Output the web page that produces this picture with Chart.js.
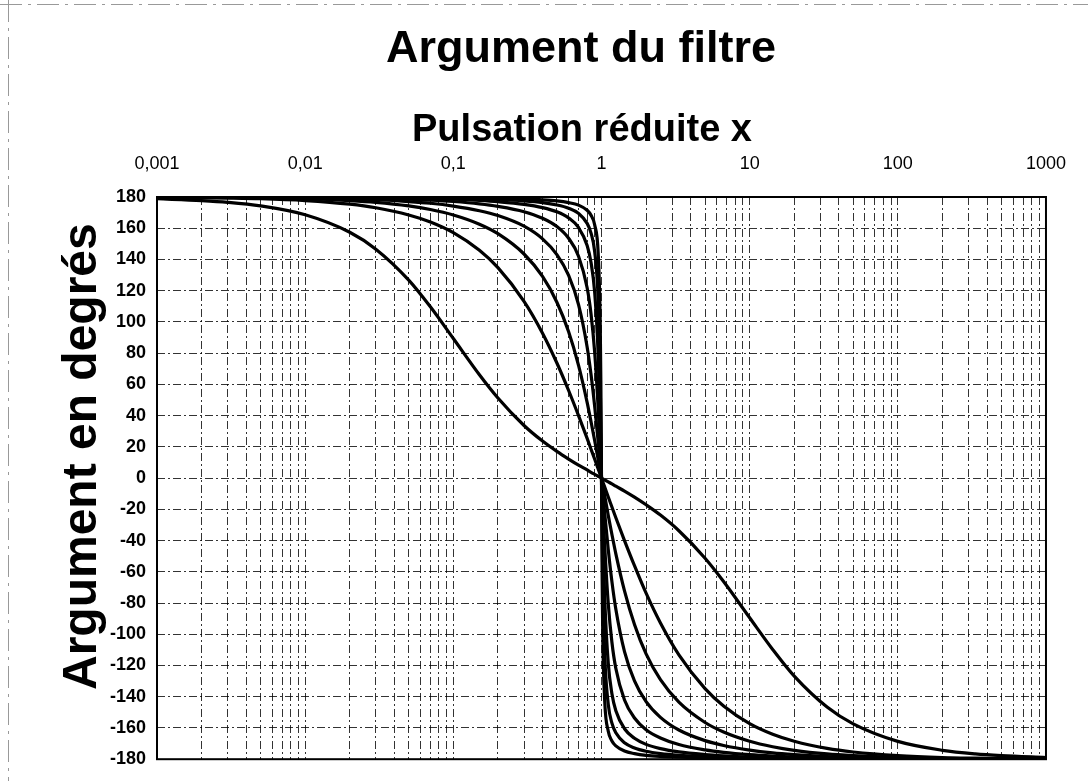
<!DOCTYPE html>
<html>
<head>
<meta charset="utf-8">
<title>Argument du filtre</title>
<script src="https://cdn.jsdelivr.net/npm/chart.js@4.4.1/dist/chart.umd.min.js"></script>
<style>
  html, body { margin: 0; padding: 0; background: #fff; }
  canvas { display: block; }
</style>
</head>
<body>
<canvas id="chart" width="1088" height="781"></canvas>
<script>
// pulsation réduite x (échelle log)
const pulsation = [0.001, 0.002, 0.003, 0.005, 0.01, 0.02, 0.03, 0.05, 0.07, 0.1, 0.15, 0.2, 0.3, 0.4, 0.5, 0.6, 0.7, 0.8, 0.85, 0.9, 0.95, 0.98, 0.99,
  1,
  1.01, 1.02, 1.053, 1.111, 1.176, 1.25, 1.43, 1.67, 2, 2.5, 3.33, 5, 6.67, 10, 14.3, 20, 33.3, 50, 100, 200, 333, 500, 1000];

// argument en degrés, une courbe par facteur de qualité
const argQ01 = [178.9, 177.7, 176.6, 174.3, 168.6, 157.4, 146.6, 126.8, 109.7, 89.4, 66.2, 51.3, 33.7, 23.7, 17.1, 12.2, 8.3, 5.2, 3.7, 2.4, 1.2, 0.5, 0.2,
  0,
  -0.2, -0.5, -1.2, -2.4, -3.7, -5.2, -8.3, -12.2, -17.1, -23.7, -33.7, -51.3, -66.2, -89.4, -109.7, -126.8, -146.6, -157.4, -168.6, -174.3, -176.6, -177.7, -178.9];
const argQ05 = [179.8, 179.5, 179.3, 178.9, 177.7, 175.4, 173.1, 168.5, 164, 157.2, 145.9, 134.8, 113.2, 92.8, 73.7, 56.1, 40, 25.4, 18.5, 12.1, 5.9, 2.3, 1.2,
  0,
  -1.2, -2.3, -5.9, -12.1, -18.5, -25.4, -40, -56.1, -73.7, -92.8, -113.2, -134.8, -145.9, -157.2, -164, -168.5, -173.1, -175.4, -177.7, -178.9, -179.3, -179.5, -179.8];
const argQ1 = [179.9, 179.8, 179.7, 179.4, 178.9, 177.7, 176.6, 174.3, 172, 168.5, 162.6, 156.5, 143.5, 129.1, 112.6, 93.7, 72.2, 48.5, 36.1, 23.9, 11.7, 4.6, 2.3,
  0,
  -2.3, -4.6, -11.7, -23.9, -36.1, -48.5, -72.2, -93.7, -112.6, -129.1, -143.5, -156.5, -162.6, -168.5, -172, -174.3, -176.6, -177.7, -178.9, -179.4, -179.7, -179.8, -179.9];
const argQ2 = [180, 179.9, 179.8, 179.7, 179.4, 178.9, 178.3, 177.1, 176, 174.2, 171.2, 168.1, 161.3, 153.2, 143.1, 129.8, 111.1, 84, 66.3, 45.8, 23.2, 9.2, 4.6,
  0,
  -4.6, -9.2, -23.2, -45.8, -66.3, -84, -111.1, -129.8, -143.1, -153.2, -161.3, -168.1, -171.2, -174.2, -176, -177.1, -178.3, -178.9, -179.4, -179.7, -179.8, -179.9, -180];
const argQ4 = [180, 180, 179.9, 179.9, 179.7, 179.4, 179.1, 178.6, 178, 177.1, 175.6, 174, 170.6, 166.4, 161.1, 153.6, 142.1, 121.9, 105.1, 80.4, 44.6, 18.4, 9.2,
  0,
  -9.2, -18.4, -44.6, -80.4, -105.1, -121.9, -142.1, -153.6, -161.1, -166.4, -170.6, -174, -175.6, -177.1, -178, -178.6, -179.1, -179.4, -179.7, -179.9, -179.9, -180, -180];
const argQ8 = [180, 180, 180, 179.9, 179.9, 179.7, 179.6, 179.3, 179, 178.6, 177.8, 177, 175.3, 173.2, 170.5, 166.6, 160.5, 149, 138.1, 118.7, 78.8, 35.8, 18.3,
  0,
  -18.3, -35.8, -78.8, -118.7, -138.1, -149, -160.5, -166.6, -170.5, -173.2, -175.3, -177, -177.8, -178.6, -179, -179.3, -179.6, -179.7, -179.9, -179.9, -180, -180, -180];
const argQ15 = [180, 180, 180, 180, 179.9, 179.8, 179.8, 179.6, 179.5, 179.2, 178.8, 178.4, 177.5, 176.4, 174.9, 172.8, 169.5, 163.1, 156.9, 144.9, 114, 62.4, 33.6,
  0,
  -33.6, -62.4, -114, -144.9, -156.9, -163.1, -169.5, -172.8, -174.9, -176.4, -177.5, -178.4, -178.8, -179.2, -179.5, -179.6, -179.8, -179.8, -179.9, -180, -180, -180, -180];
const argQ30 = [180, 180, 180, 180, 180, 179.9, 179.9, 179.8, 179.7, 179.6, 179.4, 179.2, 178.7, 178.2, 177.5, 176.4, 174.8, 171.5, 168.3, 162.1, 144, 101, 62.2,
  0,
  -62.2, -101, -144, -162.1, -168.3, -171.5, -174.8, -176.4, -177.5, -178.2, -178.7, -179.2, -179.4, -179.6, -179.7, -179.8, -179.9, -179.9, -180, -180, -180, -180, -180];

const qLabels = ['Q = 0,1', 'Q = 0,5', 'Q = 1', 'Q = 2', 'Q = 4', 'Q = 8', 'Q = 15', 'Q = 30'];
const series = [argQ01, argQ05, argQ1, argQ2, argQ4, argQ8, argQ15, argQ30];

const decades = [0.001, 0.01, 0.1, 1, 10, 100, 1000];
const xTickLabels = ['0,001', '0,01', '0,1', '1', '10', '100', '1000'];
const yMin = -180, yMax = 180, yStep = 20;

const FONT = '"Liberation Sans", Arial, Helvetica, sans-serif';

const datasets = series.map((vals, i) => ({
  label: qLabels[i],
  data: pulsation.map((x, j) => ({ x: x, y: vals[j] })),
  borderColor: '#000',
  borderWidth: 3.2,
  pointRadius: 0,
  fill: false,
  cubicInterpolationMode: 'monotone'
}));

// fond blanc, cadre du tracé et titres
const decor = {
  id: 'decor',
  beforeDraw(chart) {
    const ctx = chart.ctx;
    ctx.save();
    ctx.fillStyle = '#fff';
    ctx.fillRect(0, 0, chart.width, chart.height);
    // traces de bord de la feuille
    ctx.strokeStyle = '#999';
    ctx.lineWidth = 1;
    ctx.setLineDash([22, 6, 3, 6]);
    ctx.beginPath();
    ctx.moveTo(0, 4.5); ctx.lineTo(chart.width, 4.5);
    ctx.moveTo(8.5, 0); ctx.lineTo(8.5, chart.height);
    ctx.stroke();
    ctx.restore();
  },
  afterDraw(chart) {
    const { ctx, chartArea: a } = chart;
    ctx.save();
    ctx.strokeStyle = '#000';
    ctx.lineWidth = 2;
    ctx.strokeRect(a.left, a.top, a.right - a.left, a.bottom - a.top);

    ctx.fillStyle = '#000';
    ctx.textAlign = 'center';
    ctx.textBaseline = 'alphabetic';
    ctx.font = 'bold 45px ' + FONT;
    ctx.fillText('Argument du filtre', 581, 62);
    ctx.font = 'bold 38px ' + FONT;
    ctx.fillText('Pulsation réduite x', 582, 141);

    ctx.translate(96, 690);
    ctx.rotate(-Math.PI / 2);
    ctx.textAlign = 'left';
    ctx.font = 'bold 48px ' + FONT;
    ctx.fillText('Argument en degrés', 0, 0);
    ctx.restore();
  }
};

const gridStyle = { color: 'rgba(0,0,0,0.8)', lineWidth: 1, drawTicks: false };

new Chart(document.getElementById('chart'), {
  type: 'line',
  data: { datasets: datasets },
  options: {
    responsive: false,
    animation: false,
    layout: { padding: { top: 0, left: 0, right: 40, bottom: 15 } },
    plugins: {
      legend: { display: false },
      title: { display: false },
      tooltip: { enabled: false }
    },
    scales: {
      x: {
        type: 'logarithmic',
        position: 'top',
        min: 0.001,
        max: 1000,
        grid: gridStyle,
        border: { display: false, dash: [8, 3, 2, 3] },
        afterBuildTicks(scale) {
          const ticks = [];
          decades.forEach((d, i) => {
            ticks.push({ value: d, major: true });
            if (i < decades.length - 1) {
              for (let k = 2; k <= 9; k++) ticks.push({ value: d * k, major: false });
            }
          });
          scale.ticks = ticks;
        },
        afterFit(scale) { scale.height = 197; },
        ticks: {
          autoSkip: false,
          maxRotation: 0,
          padding: 22,
          color: '#000',
          font: { family: FONT, size: 18 },
          callback: function(value) {
            const i = decades.findIndex(d => Math.abs(d - value) / d < 1e-6);
            return i >= 0 ? xTickLabels[i] : '';
          }
        }
      },
      y: {
        type: 'linear',
        min: yMin,
        max: yMax,
        grid: gridStyle,
        border: { display: false, dash: [8, 3, 2, 3] },
        afterFit(scale) { scale.width = 157; },
        ticks: {
          stepSize: yStep,
          padding: 11,
          color: '#000',
          font: { family: FONT, size: 18, weight: 'bold' }
        }
      }
    }
  },
  plugins: [decor]
});
</script>
</body>
</html>
